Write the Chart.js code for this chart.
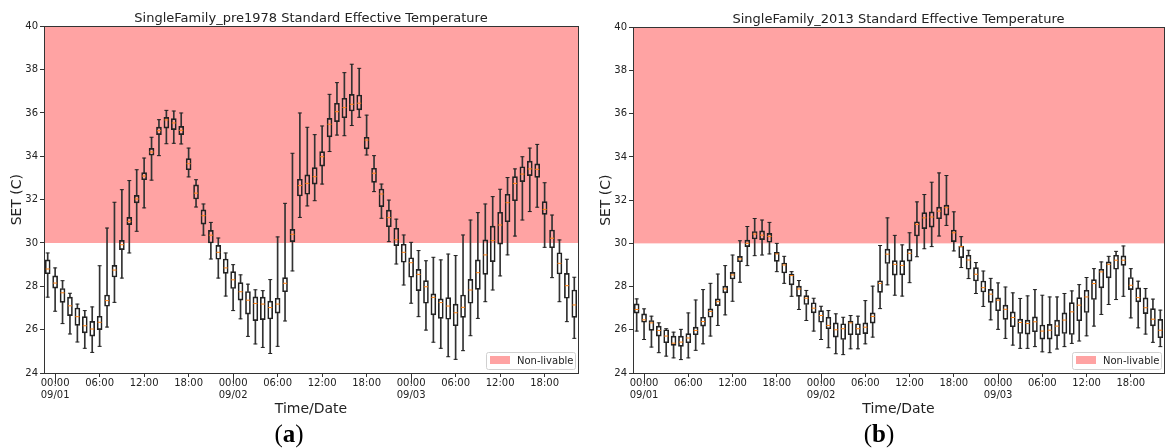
<!DOCTYPE html>
<html>
<head>
<title>SET box plots</title>
<style>
  body { margin: 0; background: #fff; width: 1169px; height: 448px; overflow: hidden; position: relative; }
  .panel { position: absolute; top: 0; }
  .tag { position: absolute; top: 421px; font-family: "Liberation Serif", serif; font-size: 25px; line-height: 1; color: #000; transform: translateX(-50%); }
</style>
<script src="https://cdn.jsdelivr.net/npm/chart.js"></script>
</head>
<body>
<canvas id="chartA" class="panel" width="585" height="448" style="left:0"></canvas>
<canvas id="chartB" class="panel" width="580" height="448" style="left:589px"></canvas>
<div class="tag" style="left:289px">(<b>a</b>)</div>
<div class="tag" style="left:879px">(<b>b</b>)</div>

<script>
// hourly boxes, 72 of them; first box is the hour before 09/01 00:00
const dates = ['09/01', '09/02', '09/03'];
const tickHours = ['00:00', '06:00', '12:00', '18:00'];
const limitSET = 30;

// SingleFamily_pre1978: whisker low, Q1, median, Q3, whisker high
const preLow = [27.5, 26.85, 26.28, 25.8, 25.43, 25.14, 24.95, 25.23, 26.12, 27.26, 28.38, 29.54, 30.54, 31.62, 32.9, 34.03, 34.58, 34.6, 34.57, 33.05, 31.66, 30.36, 29.26, 28.38,
  27.55, 26.88, 26.5, 25.69, 25.34, 25.18, 24.9, 25.23, 26.4, 28.71, 31.18, 31.71, 31.95, 32.72, 34.22, 34.98, 34.95, 35.42, 35.8, 34.06, 32.37, 31.14, 30.06, 29.03,
  28.06, 27.22, 26.6, 25.98, 25.42, 25.14, 24.75, 24.63, 25.03, 25.72, 26.52, 27.29, 27.83, 28.48, 29.45, 30.32, 31.06, 31.45, 31.65, 29.8, 28.4, 27.29, 26.37, 25.6];
const preQ1 = [28.58, 27.92, 27.26, 26.65, 26.2, 25.85, 25.7, 26.0, 27.08, 28.43, 29.69, 30.85, 31.85, 32.92, 34.05, 35.0, 35.3, 35.23, 35.0, 33.38, 32.03, 30.87, 30.0, 29.25,
  28.6, 27.9, 27.36, 26.72, 26.42, 26.46, 26.49, 26.76, 27.75, 30.06, 32.17, 32.25, 32.72, 33.55, 34.9, 35.6, 35.78, 36.09, 36.14, 34.34, 32.8, 31.68, 30.75, 29.88,
  29.11, 28.42, 27.8, 27.22, 26.68, 26.52, 26.48, 26.18, 26.57, 27.22, 27.86, 28.55, 29.14, 29.95, 30.98, 31.95, 32.83, 33.11, 33.03, 31.32, 29.78, 28.57, 27.45, 26.57];
const preMed = [28.8, 28.15, 27.7, 27.1, 26.6, 26.18, 26.03, 26.34, 27.34, 28.75, 29.92, 31.0, 32.03, 33.09, 34.2, 35.18, 35.68, 35.54, 35.2, 33.66, 32.3, 31.26, 30.36, 29.57,
  28.85, 28.3, 27.75, 27.36, 27.21, 27.18, 27.02, 27.18, 28.14, 30.4, 32.65, 32.75, 33.06, 33.98, 35.48, 36.06, 36.25, 36.4, 36.45, 34.75, 33.22, 32.26, 31.17, 30.15,
  29.57, 29.09, 28.55, 27.98, 27.49, 27.25, 27.09, 26.78, 27.03, 27.83, 28.63, 29.45, 30.11, 30.83, 31.86, 32.75, 33.18, 33.42, 33.4, 31.55, 30.22, 29.06, 28.03, 27.14];
const preQ3 = [29.22, 28.48, 27.9, 27.5, 27.0, 26.6, 26.38, 26.62, 27.6, 28.97, 30.12, 31.18, 32.2, 33.25, 34.37, 35.35, 35.8, 35.74, 35.38, 33.89, 32.68, 31.53, 30.58, 29.89,
  29.26, 28.68, 28.17, 27.76, 27.51, 27.5, 27.32, 27.45, 28.4, 30.63, 32.94, 33.14, 33.48, 34.22, 35.75, 36.45, 36.68, 36.86, 36.83, 34.88, 33.45, 32.49, 31.52, 30.68,
  29.94, 29.32, 28.78, 28.26, 27.65, 27.42, 27.48, 27.18, 27.6, 28.32, 29.22, 30.14, 30.78, 31.42, 32.25, 33.06, 33.52, 33.78, 33.65, 31.91, 30.6, 29.55, 28.6, 27.83];
const preHigh = [29.54, 28.85, 28.26, 27.68, 27.18, 26.88, 27.05, 28.95, 30.69, 31.88, 32.46, 32.88, 33.38, 33.92, 34.88, 35.69, 36.12, 36.09, 36.0, 34.38, 32.92, 31.8, 30.95, 30.23,
  29.54, 29.0, 28.53, 28.1, 27.84, 27.8, 28.31, 30.28, 31.83, 34.14, 36.0, 35.34, 35.0, 35.4, 36.86, 37.4, 37.86, 38.25, 38.06, 35.9, 34.03, 32.72, 31.98, 31.1,
  30.37, 30.03, 29.65, 29.18, 29.34, 29.22, 29.49, 29.42, 30.37, 31.06, 31.4, 31.8, 32.14, 32.48, 33.02, 33.42, 33.98, 34.38, 34.55, 32.78, 31.29, 30.14, 29.25, 28.42];

// SingleFamily_2013
const newLow = [25.94, 25.55, 25.2, 24.94, 24.78, 24.7, 24.62, 24.7, 25.05, 25.35, 25.71, 26.2, 26.69, 27.32, 28.2, 28.97, 29.43, 29.46, 29.51, 28.69, 28.15, 27.55, 26.94, 26.43,
  25.94, 25.55, 25.17, 24.89, 24.85, 25.12, 25.12, 25.35, 25.66, 26.98, 28.08, 27.6, 27.56, 28.18, 29.38, 29.75, 29.85, 30.34, 30.83, 29.65, 28.88, 28.37, 27.68, 27.08,
  26.46, 26.02, 25.6, 25.29, 25.14, 25.14, 25.22, 24.98, 24.94, 25.11, 25.22, 25.37, 25.48, 25.72, 26.17, 26.71, 27.17, 27.4, 27.55, 26.55, 26.09, 25.8, 25.42, 25.22];
const newQ1 = [26.77, 26.35, 25.97, 25.71, 25.4, 25.28, 25.23, 25.4, 25.77, 26.17, 26.58, 27.12, 27.71, 28.35, 29.15, 29.85, 30.2, 30.17, 30.05, 29.17, 28.63, 28.08, 27.55, 27.17,
  26.78, 26.35, 26.05, 25.66, 25.55, 25.77, 25.77, 25.82, 26.31, 27.73, 29.07, 28.53, 28.54, 29.18, 30.34, 30.68, 30.75, 31.14, 31.31, 30.08, 29.34, 28.8, 28.26, 27.75,
  27.27, 26.88, 26.48, 26.14, 25.83, 25.8, 25.91, 25.57, 25.57, 25.72, 25.83, 25.78, 26.42, 26.8, 27.4, 27.94, 28.4, 28.8, 28.98, 27.86, 27.29, 26.75, 26.18, 25.63];
const newMed = [26.94, 26.46, 26.32, 25.97, 25.71, 25.38, 25.43, 25.62, 25.97, 26.38, 26.85, 27.3, 27.89, 28.54, 29.28, 30.0, 30.43, 30.38, 30.32, 29.51, 29.0, 28.51, 27.89, 27.46,
  27.0, 26.66, 26.2, 26.0, 26.05, 26.32, 26.05, 26.12, 26.62, 28.15, 29.5, 29.03, 28.98, 29.54, 30.88, 31.18, 31.22, 31.49, 31.65, 30.49, 29.85, 29.23, 28.57, 27.95,
  27.65, 27.37, 26.95, 26.57, 26.34, 26.29, 26.37, 25.94, 25.98, 26.17, 26.45, 26.83, 27.14, 27.52, 28.14, 28.68, 29.03, 29.22, 29.22, 28.06, 27.49, 27.02, 26.49, 25.98];
const newQ3 = [27.2, 26.74, 26.43, 26.17, 26.0, 25.71, 25.71, 25.82, 26.12, 26.58, 26.97, 27.43, 28.02, 28.66, 29.4, 30.15, 30.55, 30.58, 30.46, 29.58, 29.09, 28.58, 28.02, 27.58,
  27.25, 26.89, 26.58, 26.32, 26.28, 26.4, 26.28, 26.32, 26.78, 28.27, 29.73, 29.2, 29.2, 29.72, 31.0, 31.42, 31.46, 31.68, 31.77, 30.62, 29.88, 29.45, 28.88, 28.26,
  27.87, 27.48, 27.14, 26.83, 26.49, 26.45, 26.6, 26.22, 26.25, 26.45, 26.78, 27.26, 27.49, 27.83, 28.32, 28.8, 29.14, 29.45, 29.42, 28.42, 27.94, 27.48, 26.98, 26.48];
const newHigh = [27.43, 26.97, 26.63, 26.32, 26.05, 25.89, 26.02, 26.78, 27.38, 27.86, 28.15, 28.58, 28.97, 29.46, 30.12, 30.78, 31.15, 31.08, 30.97, 30.0, 29.4, 28.69, 28.28, 27.82,
  27.46, 27.09, 26.89, 26.74, 26.58, 26.66, 26.63, 27.35, 28.02, 29.9, 31.18, 30.37, 29.93, 30.49, 31.92, 32.26, 32.83, 33.26, 33.14, 31.46, 30.31, 29.68, 29.11, 28.72,
  28.38, 28.17, 27.98, 27.71, 27.45, 27.57, 27.86, 27.6, 27.52, 27.52, 27.68, 27.8, 28.09, 28.42, 28.83, 29.14, 29.4, 29.63, 29.88, 28.83, 28.25, 27.91, 27.42, 26.91];

const timeLabels = preMed.map((_, j) => String((j + 23) % 24).padStart(2, '0') + ':00');

const bandColor = '#ffa3a3';
const ink = '#222';
const FONT = '"DejaVu Sans", sans-serif';

const extras = {
  id: 'extras',
  beforeDatasetsDraw(chart) {
    const { ctx, chartArea: a, scales: { y } } = chart;
    const top = y.getPixelForValue(y.max);
    const lim = y.getPixelForValue(limitSET);
    ctx.save();
    ctx.fillStyle = bandColor;
    ctx.fillRect(a.left, top, a.right - a.left, lim - top);
    ctx.restore();
  },
  afterDraw(chart) {
    const { ctx, chartArea: a, scales: { x } } = chart;
    ctx.save();
    // frame
    ctx.strokeStyle = '#333';
    ctx.lineWidth = 1;
    ctx.strokeRect(Math.round(a.left) + 0.5, Math.round(a.top) + 0.5,
      Math.round(a.right - a.left), Math.round(a.bottom - a.top));
    // long ticks at each midnight
    timeLabels.forEach((t, j) => {
      if (t !== '00:00') return;
      const px = Math.round(x.getPixelForValue(j)) + 0.5;
      ctx.beginPath();
      ctx.moveTo(px, a.bottom);
      ctx.lineTo(px, a.bottom + 11);
      ctx.stroke();
    });
    // legend
    const lx = a.right - 92, ly = a.bottom - 21;
    ctx.fillStyle = 'rgba(255,255,255,0.85)';
    ctx.strokeStyle = '#d0d0d0';
    ctx.beginPath();
    ctx.roundRect(lx + 0.5, ly + 0.5, 89, 17, 2);
    ctx.fill();
    ctx.stroke();
    ctx.fillStyle = bandColor;
    ctx.fillRect(lx + 4, ly + 4, 20, 8);
    ctx.fillStyle = ink;
    ctx.font = '10px ' + FONT;
    ctx.textBaseline = 'middle';
    ctx.fillText('Non-livable', lx + 31, ly + 9);
    ctx.restore();
  }
};

function makeChart(id, title, low, q1, med, q3, high, padRight, padTitle) {
  const pairs = (a, b) => a.map((v, i) => [v, b[i]]);
  const capSet = (data) => ({
    type: 'line', data, showLine: false, pointStyle: 'line', pointRadius: 2,
    pointBorderColor: ink, pointBorderWidth: 1, pointBackgroundColor: ink
  });
  return new Chart(document.getElementById(id), {
    type: 'bar',
    data: {
      labels: timeLabels,
      datasets: [
        { type: 'line', data: med, showLine: false, pointStyle: 'line', pointRadius: 2,
          pointBorderColor: '#ff7f0e', pointBorderWidth: 1 },
        capSet(low),
        capSet(high),
        { data: pairs(q1, q3), grouped: false, barThickness: 5, backgroundColor: 'rgba(0,0,0,0)',
          borderColor: ink, borderWidth: 1, borderSkipped: false },
        { data: pairs(q3, high), grouped: false, barThickness: 1, backgroundColor: '#333', borderWidth: 0 },
        { data: pairs(low, q1), grouped: false, barThickness: 1, backgroundColor: '#333', borderWidth: 0 }
      ]
    },
    options: {
      responsive: false,
      animation: false,
      events: [],
      layout: { padding: { left: 0, right: padRight, top: 0, bottom: 0 } },
      plugins: {
        legend: { display: false },
        tooltip: { enabled: false },
        title: {
          display: true, text: title, fullSize: false, color: ink,
          font: { family: FONT, size: 13, weight: 'normal', lineHeight: 1.1 },
          padding: { top: padTitle, bottom: 1 }
        }
      },
      scales: {
        x: {
          offset: true,
          grid: {
            offset: false, drawOnChartArea: false, drawTicks: true, tickLength: 4,
            color: c => (c.index % 6 === 1 ? '#333' : 'rgba(0,0,0,0)')
          },
          border: { display: false },
          ticks: {
            autoSkip: false, maxRotation: 0, padding: 1, color: ink,
            font: { family: FONT, size: 10, lineHeight: 1.15 },
            callback: (v, idx) => {
              if (idx < 1 || (idx - 1) % 6 !== 0) return '';
              const t = tickHours[((idx - 1) / 6) % 4];
              return t === '00:00' ? [t, dates[(idx - 1) / 24]] : t;
            }
          },
          title: { display: true, text: 'Time/Date', color: ink, font: { family: FONT, size: 14 }, padding: { top: 0, bottom: 30 } },
          afterFit: s => { s.height = 75; }
        },
        y: {
          min: 24, max: 40,
          grid: { drawOnChartArea: false, drawTicks: true, tickLength: 4, color: '#333' },
          border: { display: false },
          ticks: { stepSize: 2, padding: 2, color: ink, font: { family: FONT, size: 10 } },
          title: { display: true, text: 'SET (C)', color: ink, font: { family: FONT, size: 14 }, padding: { top: 9, bottom: 0 } },
          afterFit: s => { s.width = 44; }
        }
      }
    },
    plugins: [extras]
  });
}

makeChart('chartA', 'SingleFamily_pre1978 Standard Effective Temperature',
  preLow, preQ1, preMed, preQ3, preHigh, 7, 11);
makeChart('chartB', 'SingleFamily_2013 Standard Effective Temperature',
  newLow, newQ1, newMed, newQ3, newHigh, 2, 12);
</script>
</body>
</html>
